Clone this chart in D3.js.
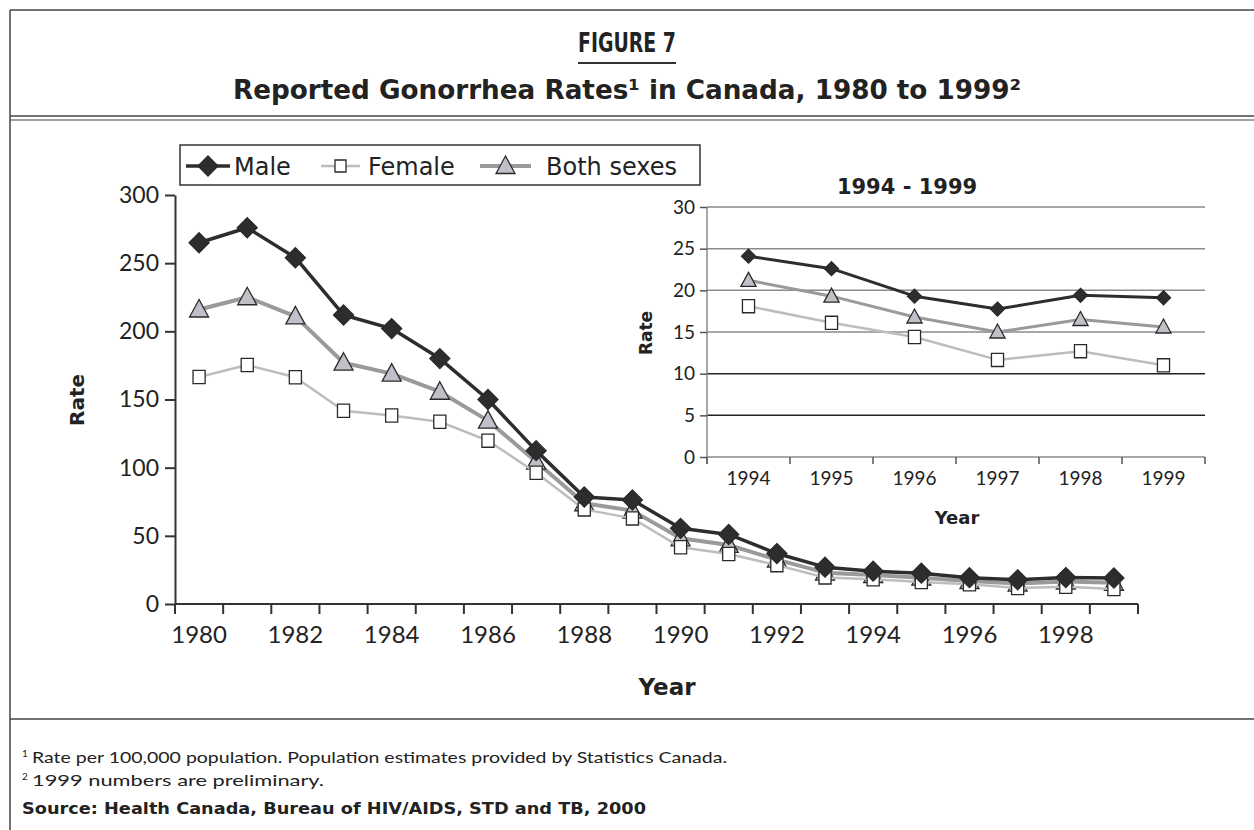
<!DOCTYPE html>
<html>
<head>
<meta charset="utf-8">
<script src="https://cdn.jsdelivr.net/npm/d3@7"></script>
<style>
  body { margin: 0; background: #fff; }
  svg { display: block; }
  text { font-family: Lato, "Open Sans", sans-serif; fill: #222; }
  .cond { font-family: "DejaVu Sans", sans-serif; font-weight: bold; }
  .bold { font-family: "DejaVu Sans", sans-serif; font-weight: bold; }
  .wide { font-family: "DejaVu Sans", sans-serif; }
</style>
</head>
<body>
<svg id="chart" width="1254" height="830"></svg>
<script>
// data
const years = [1980, 1981, 1982, 1983, 1984, 1985, 1986, 1987, 1988, 1989,
               1990, 1991, 1992, 1993, 1994, 1995, 1996, 1997, 1998, 1999];
const maleRates = [265, 276, 254, 212, 202, 180, 150, 112.5, 78.5, 76.3,
                   55.5, 51, 37, 27, 24.1, 22.6, 19.3, 17.75, 19.4, 19.1];
const femaleRates = [166.5, 175.3, 166.3, 141.7, 138.3, 133.7, 119.8, 96.3, 69.4, 62.8,
                     41.6, 36.7, 28.5, 19.5, 18.1, 16.1, 14.4, 11.65, 12.7, 11.0];
const bothRates = [216, 225, 211, 177, 169, 155.7, 134.5, 104.4, 73.9, 68.5,
                   48.2, 43.3, 32.5, 23, 21.2, 19.3, 16.8, 15.0, 16.5, 15.6];
const mainYTicks = [0, 50, 100, 150, 200, 250, 300];
const mainXLabels = [1980, 1982, 1984, 1986, 1988, 1990, 1992, 1994, 1996, 1998];
const insetYears = [1994, 1995, 1996, 1997, 1998, 1999];
const insetYTicks = [0, 5, 10, 15, 20, 25, 30];
const seriesNames = ["Male", "Female", "Both sexes"];

const svg = d3.select("#chart");

// frame
const frame = svg.append("g").attr("stroke", "#444").attr("fill", "none");
frame.append("line").attr("x1", 10).attr("x2", 1254).attr("y1", 10).attr("y2", 10).attr("stroke-width", 1.5);
frame.append("line").attr("x1", 10).attr("x2", 10).attr("y1", 10).attr("y2", 830).attr("stroke-width", 1.5);
frame.append("line").attr("x1", 10).attr("x2", 1254).attr("y1", 116).attr("y2", 116).attr("stroke-width", 1.5);
frame.append("line").attr("x1", 10).attr("x2", 1254).attr("y1", 120).attr("y2", 120).attr("stroke-width", 1);
frame.append("line").attr("x1", 10).attr("x2", 1254).attr("y1", 719).attr("y2", 719).attr("stroke-width", 1.5);

// titles
svg.append("text").attr("class", "cond").attr("x", 578).attr("y", 52)
  .attr("textLength", 98).attr("lengthAdjust", "spacingAndGlyphs")
  .style("font-size", "27px").text("FIGURE 7");
svg.append("line").attr("x1", 578).attr("x2", 676).attr("y1", 63).attr("y2", 63)
  .attr("stroke", "#333").attr("stroke-width", 2);
svg.append("text").attr("class", "cond").attr("x", 233).attr("y", 99)
  .attr("textLength", 788).attr("lengthAdjust", "spacingAndGlyphs")
  .style("font-size", "27px")
  .text("Reported Gonorrhea Rates\u00b9 in Canada, 1980 to 1999\u00b2");

function drawSeries(g, x, y, xs, vals, style, markerSize) {
  const line = d3.line().x((d, i) => x(xs[i]) + x.bandwidth() / 2).y(d => y(d));
  g.append("path").datum(vals).attr("d", line)
    .attr("fill", "none").attr("stroke", style.line).attr("stroke-width", style.width)
    .attr("stroke-linejoin", "round");
  g.selectAll(null).data(vals).enter().append("path")
    .attr("transform", (d, i) => `translate(${x(xs[i]) + x.bandwidth() / 2},${y(d)})`)
    .attr("d", markerPath(style.marker, markerSize))
    .attr("fill", style.fill).attr("stroke", "#2a2a2a").attr("stroke-width", 1.3);
}

function markerPath(kind, s) {
  if (kind === "diamond") return `M0,${-s}L${s},0L0,${s}L${-s},0Z`;
  if (kind === "square") return `M${-s * 0.55},${-s * 0.6}H${s * 0.55}V${s * 0.6}H${-s * 0.55}Z`;
  return `M0,${-s}L${s * 0.95},${s * 0.75}H${-s * 0.95}Z`;
}

const styles = [
  {line: "#2d2d2d", width: 3.5, fill: "#2d2d2d", marker: "diamond"},
  {line: "#bdbdbd", width: 2.5, fill: "#ffffff", marker: "square"},
  {line: "#9a9a9a", width: 4, fill: "#c3bfc8", marker: "triangle"}
];

// ---- main chart ----
const x = d3.scaleBand().domain(years).range([175, 1138]);
const y = d3.scaleLinear().domain([0, 300]).range([604, 195]);
const main = svg.append("g");

main.append("g").attr("transform", "translate(175,0)")
  .call(d3.axisLeft(y).tickValues(mainYTicks).tickSize(10).tickPadding(6).tickSizeOuter(0))
  .call(g => g.select(".domain").attr("stroke", "#333").attr("stroke-width", 2))
  .call(g => g.selectAll(".tick line").attr("stroke", "#333").attr("stroke-width", 2))
  .call(g => g.selectAll(".tick text").style("font-size", "23px").attr("fill", "#222").style("font-family", "Lato, sans-serif"));

main.append("line").attr("x1", 175).attr("x2", 1138).attr("y1", 604).attr("y2", 604)
  .attr("stroke", "#333").attr("stroke-width", 2);
main.selectAll(".xtick").data(years.concat([null])).enter().append("line")
  .attr("x1", d => d === null ? 1138 : x(d)).attr("x2", d => d === null ? 1138 : x(d))
  .attr("y1", 604).attr("y2", 614).attr("stroke", "#333").attr("stroke-width", 2);
main.append("g").attr("transform", "translate(0,604)")
  .call(d3.axisBottom(x).tickValues(mainXLabels).tickSize(0).tickPadding(22))
  .call(g => g.select(".domain").remove())
  .call(g => g.selectAll(".tick text").style("font-size", "24px").attr("fill", "#222").style("font-family", "Lato, sans-serif"));

main.append("text").attr("class", "bold").attr("transform", "translate(84,400) rotate(-90)")
  .attr("text-anchor", "middle").style("font-size", "20px").text("Rate");
main.append("text").attr("class", "bold").attr("x", 667).attr("y", 695)
  .attr("text-anchor", "middle").style("font-size", "23px").text("Year");

drawSeries(main, x, y, years, bothRates, styles[2], 10);
drawSeries(main, x, y, years, femaleRates, styles[1], 11);
drawSeries(main, x, y, years, maleRates, styles[0], 10);

// legend
const legend = svg.append("g");
legend.append("rect").attr("x", 180).attr("y", 145).attr("width", 520).attr("height", 40)
  .attr("fill", "#fff").attr("stroke", "#333").attr("stroke-width", 1.5);
const legendX = [[186, 230, 234], [321, 360, 368], [480, 531, 546]];
seriesNames.forEach((name, i) => {
  const st = styles[i];
  const [x0, x1, tx] = legendX[i];
  legend.append("line").attr("x1", x0).attr("x2", x1).attr("y1", 166).attr("y2", 166)
    .attr("stroke", st.line).attr("stroke-width", st.width);
  legend.append("path").attr("transform", `translate(${(x0 + x1) / 2},166)`)
    .attr("d", markerPath(st.marker, 10))
    .attr("fill", st.fill).attr("stroke", "#2a2a2a").attr("stroke-width", 1.3);
  legend.append("text").attr("class", "wide").attr("x", tx).attr("y", 175).style("font-size", "24px").text(name);
});

// ---- inset ----
const ix = d3.scaleBand().domain(insetYears).range([707, 1205]);
const iy = d3.scaleLinear().domain([0, 30]).range([457, 207]);
const inset = svg.append("g");

inset.selectAll(".grid").data(insetYTicks).enter().append("line")
  .attr("x1", 707).attr("x2", 1205).attr("y1", d => iy(d)).attr("y2", d => iy(d))
  .attr("stroke", d => (d === 5 || d === 10) ? "#222" : "#8a8a8a").attr("stroke-width", 1.5);
inset.append("g").attr("transform", "translate(707,0)")
  .call(d3.axisLeft(iy).tickValues(insetYTicks).tickSize(7).tickPadding(5).tickSizeOuter(0))
  .call(g => g.select(".domain").attr("stroke", "#8a8a8a").attr("stroke-width", 1.5).attr("d", "M0,207V464"))
  .call(g => g.selectAll(".tick line").attr("stroke", "#555").attr("stroke-width", 1.5))
  .call(g => g.selectAll(".tick text").style("font-size", "19px").attr("fill", "#222").style("font-family", "Lato, sans-serif"));
inset.selectAll(".ixtick").data(insetYears.concat([null])).enter().append("line")
  .attr("x1", d => d === null ? 1205 : ix(d)).attr("x2", d => d === null ? 1205 : ix(d))
  .attr("y1", 457).attr("y2", 464).attr("stroke", "#555").attr("stroke-width", 1.5);
inset.append("g").attr("transform", "translate(0,457)")
  .call(d3.axisBottom(ix).tickSize(0).tickPadding(15))
  .call(g => g.select(".domain").remove())
  .call(g => g.selectAll(".tick text").style("font-size", "19px").attr("fill", "#222").style("font-family", "Lato, sans-serif"));

inset.append("text").attr("class", "bold").attr("x", 907).attr("y", 194)
  .attr("text-anchor", "middle").style("font-size", "21px").text("1994 - 1999");
inset.append("text").attr("class", "bold").attr("transform", "translate(652,333) rotate(-90)")
  .attr("text-anchor", "middle").style("font-size", "17px").text("Rate");
inset.append("text").attr("class", "bold").attr("x", 957).attr("y", 524)
  .attr("text-anchor", "middle").style("font-size", "18px").text("Year");

const insetVals = arr => arr.slice(years.indexOf(1994));
drawSeries(inset, ix, iy, insetYears, insetVals(bothRates), Object.assign({}, styles[2], {width: 3}), 8);
drawSeries(inset, ix, iy, insetYears, insetVals(femaleRates), Object.assign({}, styles[1], {width: 2.5}), 11);
drawSeries(inset, ix, iy, insetYears, insetVals(maleRates), Object.assign({}, styles[0], {width: 3}), 7);

// footnotes
const notes = svg.append("g").attr("class", "wide").style("font-size", "15px");
notes.append("text").attr("x", 22).attr("y", 757).style("font-size", "10px").text("1");
notes.append("text").attr("x", 32).attr("y", 763)
  .attr("textLength", 695).attr("lengthAdjust", "spacingAndGlyphs")
  .text("Rate per 100,000 population. Population estimates provided by Statistics Canada.");
notes.append("text").attr("x", 22).attr("y", 780).style("font-size", "10px").text("2");
notes.append("text").attr("x", 32).attr("y", 786)
  .attr("textLength", 292).attr("lengthAdjust", "spacingAndGlyphs")
  .text("1999 numbers are preliminary.");
notes.append("text").attr("class", "bold").attr("x", 22).attr("y", 814)
  .attr("textLength", 624).attr("lengthAdjust", "spacingAndGlyphs")
  .text("Source: Health Canada, Bureau of HIV/AIDS, STD and TB, 2000");
</script>
</body>
</html>
